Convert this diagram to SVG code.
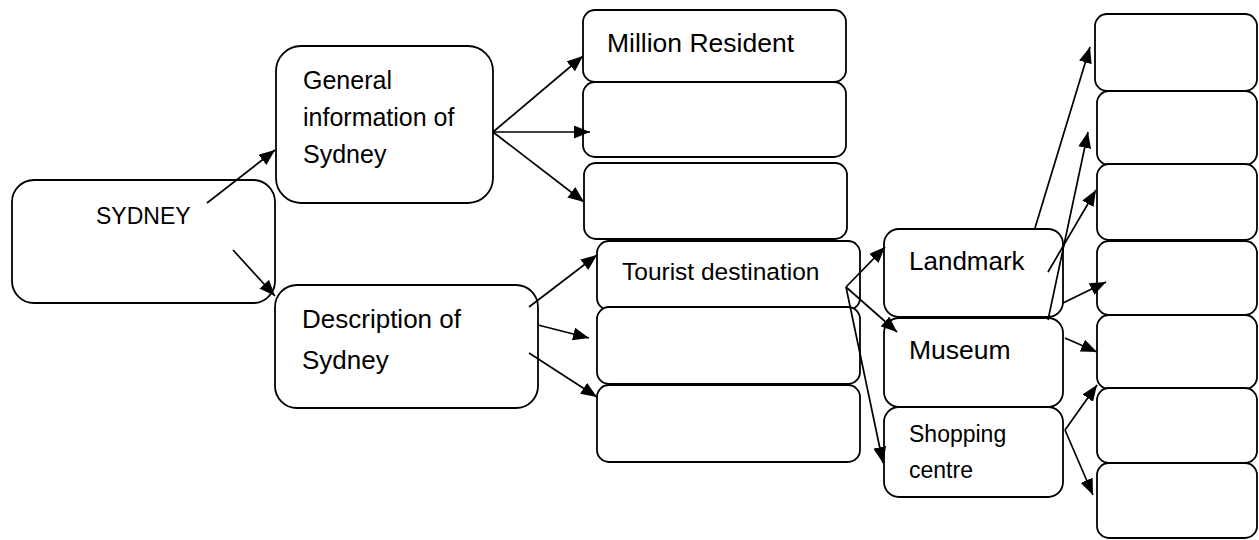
<svg xmlns="http://www.w3.org/2000/svg" width="1259" height="540" viewBox="0 0 1259 540">
<defs>
<style>
.box{fill:#fff;stroke:#000;stroke-width:1.8}
.t{font-family:"Liberation Sans",Arial,sans-serif;fill:#000}
.c line{stroke:#000;stroke-width:1.7;marker-end:url(#ah)}
</style>
<marker id="ah" markerUnits="userSpaceOnUse" markerWidth="17" markerHeight="13" refX="16" refY="6.5" orient="auto" viewBox="0 0 17 13">
<path d="M0,0 L16,6.5 L0,13 z" fill="#000"/>
</marker>
</defs>
<rect width="1259" height="540" fill="#fff"/>
<g id="sydney"><rect class="box" x="12" y="180" width="263" height="123" rx="22"/><text class="t" x="96" y="224" font-size="23">SYDNEY</text></g>
<g id="general"><rect class="box" x="276" y="46" width="217" height="157" rx="25"/><text class="t" font-size="25"><tspan x="303" y="89">General</tspan><tspan x="303" y="126">information of</tspan><tspan x="303" y="163">Sydney</tspan></text></g>
<g id="description"><rect class="box" x="275" y="285" width="263" height="123" rx="22"/><text class="t" font-size="26"><tspan x="302" y="328">Description of</tspan><tspan x="302" y="369">Sydney</tspan></text></g>
<g id="million"><rect class="box" x="583" y="10" width="263" height="72" rx="12"/><text class="t" x="607" y="52" font-size="26.5">Million Resident</text></g>
<g id="gen2"><rect class="box" x="583" y="82" width="263" height="75" rx="12"/></g>
<g id="gen3"><rect class="box" x="584" y="163" width="263" height="76" rx="12"/></g>
<g id="tourist"><rect class="box" x="597" y="241" width="263" height="69" rx="12"/><text class="t" x="622" y="280" font-size="24.5">Tourist destination</text></g>
<g id="desc2"><rect class="box" x="597" y="307" width="263" height="77" rx="12"/></g>
<g id="desc3"><rect class="box" x="597" y="385" width="263" height="77" rx="12"/></g>
<g id="landmark"><rect class="box" x="884" y="229" width="179" height="88" rx="15"/><text class="t" x="909" y="270" font-size="26">Landmark</text></g>
<g id="museum"><rect class="box" x="884" y="318" width="179" height="89" rx="15"/><text class="t" x="909" y="359" font-size="26.5">Museum</text></g>
<g id="shopping"><rect class="box" x="884" y="407" width="179" height="90" rx="15"/><text class="t" font-size="23"><tspan x="909" y="442">Shopping</tspan><tspan x="909" y="478">centre</tspan></text></g>
<g id="r1"><rect class="box" x="1095" y="14" width="162" height="77" rx="12"/></g>
<g id="r2"><rect class="box" x="1097" y="91" width="160" height="74" rx="12"/></g>
<g id="r3"><rect class="box" x="1097" y="164" width="160" height="76" rx="12"/></g>
<g id="r4"><rect class="box" x="1097" y="241" width="160" height="74" rx="12"/></g>
<g id="r5"><rect class="box" x="1097" y="315" width="160" height="74" rx="12"/></g>
<g id="r6"><rect class="box" x="1097" y="388" width="160" height="75" rx="12"/></g>
<g id="r7"><rect class="box" x="1097" y="463" width="160" height="75" rx="12"/></g>
<g id="connectors" class="c">
<line x1="207" y1="203" x2="275" y2="150"/>
<line x1="233" y1="250" x2="275" y2="296"/>
<line x1="493" y1="132" x2="583" y2="56"/>
<line x1="493" y1="132" x2="590" y2="132"/>
<line x1="493" y1="132" x2="584" y2="202"/>
<line x1="529" y1="307" x2="597" y2="255"/>
<line x1="538" y1="325" x2="589" y2="338"/>
<line x1="529" y1="353" x2="597" y2="397"/>
<line x1="846" y1="287" x2="885" y2="247"/>
<line x1="846" y1="287" x2="897" y2="332"/>
<line x1="846" y1="287" x2="883" y2="463"/>
<line x1="1035" y1="228" x2="1090" y2="47"/>
<line x1="1048" y1="320" x2="1088" y2="132"/>
<line x1="1048" y1="272" x2="1096" y2="190"/>
<line x1="1063" y1="303" x2="1106" y2="282"/>
<line x1="1065" y1="338" x2="1097" y2="352"/>
<line x1="1065" y1="430" x2="1097" y2="385"/>
<line x1="1065" y1="430" x2="1093" y2="495"/>
</g>
</svg>
